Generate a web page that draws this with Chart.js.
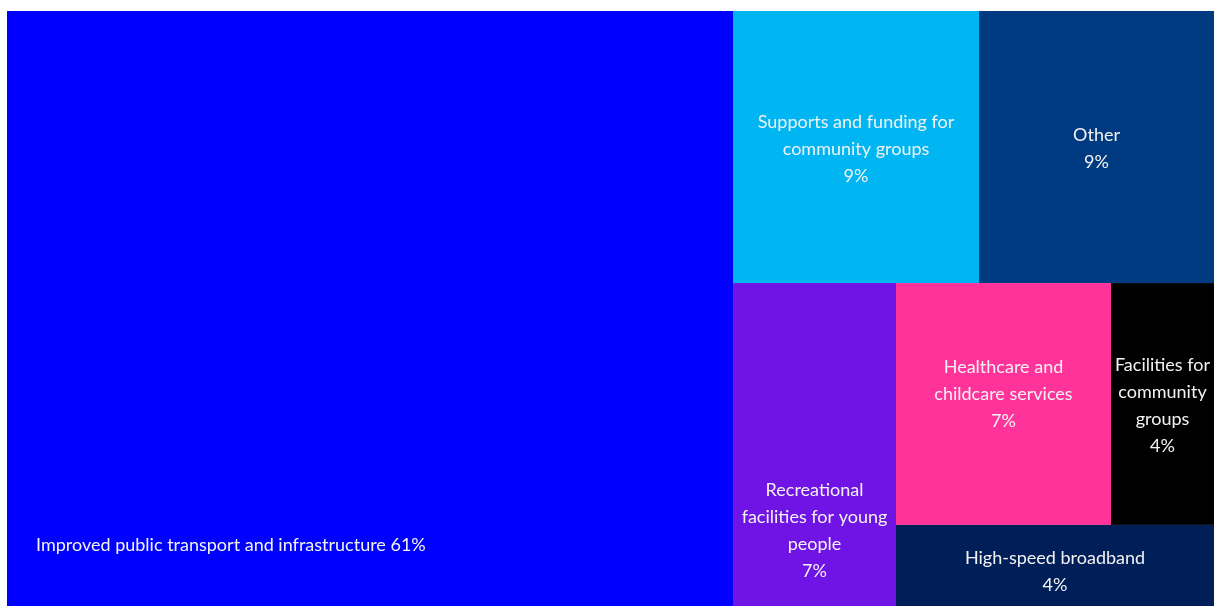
<!DOCTYPE html>
<html>
<head>
<meta charset="utf-8">
<script src="https://cdn.jsdelivr.net/npm/chart.js@4.4.1/dist/chart.umd.min.js"></script>
<style>
  html, body { margin: 0; padding: 0; background: #fff; }
  #wrap { position: relative; width: 1219px; height: 606px; }
</style>
</head>
<body>
<div id="wrap"><canvas id="chart"></canvas></div>
<script>
// category names, already broken into lines the way the picture shows them
const categories = [
  ['Improved public transport and infrastructure'],
  ['Supports and funding for', 'community groups'],
  ['Other'],
  ['Recreational', 'facilities for young', 'people'],
  ['Healthcare and', 'childcare services'],
  ['Facilities for', 'community', 'groups'],
  ['High-speed broadband']
];
// share of each cell and the percent shown on it
const shares = [60.15, 9.32, 8.90, 7.33, 7.24, 3.47, 3.59];
const shareLabels = ['61%', '9%', '9%', '7%', '7%', '4%', '4%'];
const colors = ['#0000ff', '#00b6f2', '#003a80', '#7014e6', '#ff3399', '#000000', '#001e57'];

// squarified layout: keeps adding to a strip while the last cell's
// aspect ratio does not get worse, then flips direction
function squarify(vals, W, H) {
  const total = vals.reduce((a, b) => a + b, 0);
  const out = [];
  let box = { x: 0, y: 0, w: W, h: H };
  let vertical = true;
  let row = [];
  const ratio = (a, b) => Math.max(a / b, b / a);
  const place = (items, vert) => {
    const sum = items.reduce((a, b) => a + b.area, 0);
    if (vert) {
      const cw = sum / box.h;
      let y = box.y;
      items.forEach(it => { const h = it.area / cw; out[it.i] = { x: box.x, y, w: cw, h }; y += h; });
      box = { x: box.x + cw, y: box.y, w: box.w - cw, h: box.h };
    } else {
      const rh = sum / box.w;
      let x = box.x;
      items.forEach(it => { const w = it.area / rh; out[it.i] = { x, y: box.y, w, h: rh }; x += w; });
      box = { x: box.x, y: box.y + rh, w: box.w, h: box.h - rh };
    }
  };
  vals.forEach((v, i) => {
    const area = v / total * W * H;
    if (row.length) {
      const sum = row.reduce((a, b) => a + b.area, 0);
      const last = row[row.length - 1].area;
      const side = vertical ? box.h : box.w;
      const oldT = sum / side, newT = (sum + area) / side;
      if (ratio(newT, last / newT) > ratio(oldT, last / oldT)) {
        place(row, vertical);
        vertical = !vertical;
        row = [];
      }
    }
    row.push({ i, area });
  });
  place(row, vertical);
  return out;
}

class CellElement extends Chart.Element {
  draw(ctx) {
    ctx.save();
    ctx.fillStyle = this.options.backgroundColor;
    ctx.fillRect(this.x, this.y, this.width, this.height);
    ctx.restore();
  }
  inRange() { return false; }
  inXRange() { return false; }
  inYRange() { return false; }
  getCenterPoint() { return { x: this.x + this.width / 2, y: this.y + this.height / 2 }; }
  tooltipPosition() { return this.getCenterPoint(); }
}
CellElement.id = 'cell';
CellElement.defaults = {};

class TreemapController extends Chart.DatasetController {
  parse() {}
  update(mode) {
    const meta = this._cachedMeta;
    this.updateElements(meta.data, 0, meta.data.length, mode);
  }
  updateElements(cells, start, count) {
    const meta = this._cachedMeta;
    const xs = meta.xScale, ys = meta.yScale;
    const ds = this.getDataset();
    const area = this.chart.chartArea;
    const boxes = squarify(ds.data, area.width, area.height);
    for (let i = start; i < start + count; i++) {
      const b = boxes[i];
      // layout is in pixels-of-area, turn it into 0..100 data units
      const left = xs.getPixelForValue(b.x / area.width * 100);
      const right = xs.getPixelForValue((b.x + b.w) / area.width * 100);
      const top = ys.getPixelForValue(b.y / area.height * 100);
      const bottom = ys.getPixelForValue((b.y + b.h) / area.height * 100);
      Object.assign(cells[i], {
        x: left, y: top, width: right - left, height: bottom - top,
        options: { backgroundColor: ds.backgroundColor[i] }
      });
    }
  }
}
TreemapController.id = 'treemap';
TreemapController.defaults = { datasetElementType: false, dataElementType: 'cell' };

Chart.register(CellElement, TreemapController);

const FONT = '18px Lato, "Open Sans", sans-serif';
const LINE_H = 27;

const cellLabels = {
  id: 'cellLabels',
  afterDatasetsDraw(chart, args, opts) {
    const ctx = chart.ctx;
    const cells = chart.getDatasetMeta(0).data;
    ctx.save();
    ctx.font = FONT;
    ctx.fillStyle = opts.color;
    ctx.textBaseline = 'middle';
    cells.forEach((c, i) => {
      const place = opts.placement[i] || {};
      if (place.inline) {
        ctx.textAlign = 'left';
        const txt = categories[i].join(' ') + ' ' + shareLabels[i];
        ctx.fillText(txt, c.x + place.dx, c.y + c.height + place.fromBottom);
        return;
      }
      const lines = categories[i].concat(shareLabels[i]);
      ctx.textAlign = 'center';
      const cx = c.x + c.width / 2;
      const cy = c.y + c.height / 2 + opts.shift + (place.dy || 0);
      const y0 = cy - (lines.length - 1) * LINE_H / 2;
      lines.forEach((l, k) => ctx.fillText(l, cx, y0 + k * LINE_H));
    });
    ctx.restore();
  }
};

new Chart(document.getElementById('chart'), {
  type: 'treemap',
  data: {
    labels: categories,
    datasets: [{ data: shares, backgroundColor: colors }]
  },
  options: {
    responsive: true,
    maintainAspectRatio: false,
    animation: false,
    layout: { padding: { left: 7, top: 11, right: 5, bottom: 0 } },
    scales: {
      x: { type: 'linear', min: 0, max: 100, display: false },
      y: { type: 'linear', min: 0, max: 100, reverse: true, display: false }
    },
    plugins: {
      legend: { display: false },
      tooltip: { enabled: false },
      cellLabels: {
        color: '#f2f2f2',
        shift: 2,
        placement: {
          0: { inline: true, dx: 29, fromBottom: -61 },
          3: { dy: 84 },
          4: { dy: -12 },
          6: { dy: 4 }
        }
      }
    }
  },
  plugins: [cellLabels]
});
</script>
</body>
</html>
